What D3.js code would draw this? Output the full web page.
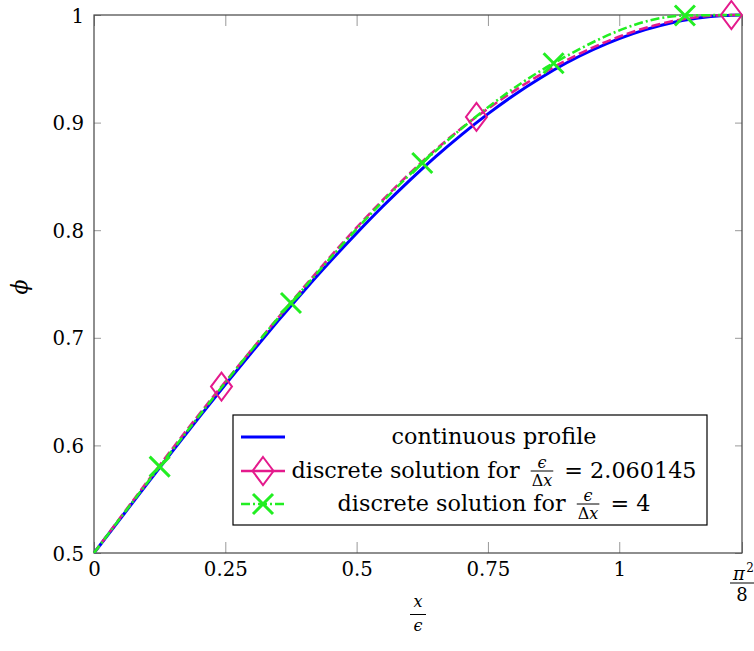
<!DOCTYPE html>
<html>
<head>
<meta charset="utf-8">
<script src="https://cdn.jsdelivr.net/npm/d3@7/dist/d3.min.js"></script>
<style>
  body { margin: 0; background: #fff; }
  svg text { font-family: "DejaVu Serif", "Liberation Serif", serif; }
</style>
</head>
<body>
<svg id="chart" width="754" height="651"></svg>
<script>
// axis ticks
const xEnd = Math.PI * Math.PI / 8;
const xTicks = [0, 0.25, 0.5, 0.75, 1, xEnd];
const xTickLabels = ['0', '0.25', '0.5', '0.75', '1', null];
const yTicks = [0.5, 0.6, 0.7, 0.8, 0.9, 1];
const yTickLabels = ['0.5', '0.6', '0.7', '0.8', '0.9', '1'];

// continuous profile
const contX = [0, 0.05, 0.1, 0.15, 0.2, 0.25, 0.3, 0.35, 0.4, 0.45, 0.5, 0.55, 0.6,
  0.65, 0.7, 0.75, 0.8, 0.85, 0.9, 0.95, 1.0, 1.05, 1.1, 1.15, 1.2, xEnd];
const contY = [0.5, 0.5318, 0.5635, 0.5949, 0.6260, 0.6565, 0.6864, 0.7155, 0.7438,
  0.7711, 0.7972, 0.8222, 0.8459, 0.8682, 0.8889, 0.9081, 0.9257, 0.9415, 0.9556,
  0.9677, 0.9780, 0.9864, 0.9928, 0.9972, 0.9995, 1.0];

// discrete solution, eps/dx = 2.060145
const coarseX = [0, 0.2427, 0.7281, 1.2135, xEnd];
const coarseY = [0.5, 0.6547, 0.9053, 1.0, 1.0];

// discrete solution, eps/dx = 4
const fineX = [0, 0.125, 0.375, 0.625, 0.875, 1.125, xEnd];
const fineY = [0.5, 0.5803, 0.7323, 0.8625, 0.9552, 0.9995, 1.0];

const blue = '#0000ff';
const pink = '#e41a8c';
const green = '#22ee22';

const svg = d3.select('#chart');
const x = d3.scaleLinear().domain([0, xEnd]).range([94, 742]);
const y = d3.scaleLinear().domain([0.5, 1]).range([553, 15]);

// pick a font size so a string gets the width it has in the reference
function fit(str, width) {
  const t = svg.append('text').attr('font-size', 100).text(str);
  const w = t.node().getComputedTextLength();
  t.remove();
  return 100 * width / w;
}
const tickFont = fit('0.25', 44);
const legendFont = fit('continuous profile', 205);

// ticks (inside, mirrored)
function tickAxis(axis, tr) {
  const g = svg.append('g').attr('transform', tr).call(axis);
  g.select('.domain').remove();
  g.selectAll('.tick line').attr('stroke', '#999').attr('stroke-width', 1);
  g.selectAll('.tick text').attr('font-size', tickFont).attr('fill', '#000');
  return g;
}
tickAxis(d3.axisBottom(x).tickValues(xTicks).tickSize(-11).tickPadding(4)
  .tickFormat((d, i) => xTickLabels[i] || ''), 'translate(0,553)')
  .selectAll('.tick text').attr('dy', '0.95em');
tickAxis(d3.axisTop(x).tickValues(xTicks).tickSize(-11).tickFormat(''), 'translate(0,15)');
tickAxis(d3.axisLeft(y).tickValues(yTicks).tickSize(-7).tickPadding(10)
  .tickFormat((d, i) => yTickLabels[i]), 'translate(94,0)')
  .selectAll('.tick text').attr('dy', '0.36em');
tickAxis(d3.axisRight(y).tickValues(yTicks).tickSize(-7).tickFormat(''), 'translate(742,0)');

// frame
svg.append('rect').attr('x', 94).attr('y', 15).attr('width', 648).attr('height', 538)
  .attr('fill', 'none').attr('stroke', '#444').attr('stroke-width', 1.2);

// pi^2/8 tick label
const pl = svg.append('g').attr('transform', `translate(${x(xEnd)},0)`);
pl.append('text').attr('x', -3).attr('y', 580).attr('text-anchor', 'middle')
  .attr('font-size', 18).attr('font-style', 'italic').text('π');
pl.append('text').attr('x', 8).attr('y', 572).attr('text-anchor', 'middle')
  .attr('font-size', 12).text('2');
pl.append('line').attr('x1', -12).attr('x2', 12).attr('y1', 583).attr('y2', 583)
  .attr('stroke', '#000').attr('stroke-width', 1);
pl.append('text').attr('x', 0).attr('y', 601).attr('text-anchor', 'middle')
  .attr('font-size', 18).text('8');

// curves
const line = d3.line().x(d => x(d[0])).y(d => y(d[1])).curve(d3.curveMonotoneX);
const contData = d3.zip(contX, contY);
const coarseData = d3.zip(coarseX, coarseY);
const fineData = d3.zip(fineX, fineY);

svg.append('path').datum(contData).attr('d', line)
  .attr('fill', 'none').attr('stroke', blue).attr('stroke-width', 3);
svg.append('path').datum(coarseData).attr('d', line)
  .attr('fill', 'none').attr('stroke', pink).attr('stroke-width', 2.6)
  .attr('stroke-dasharray', '9,4');
svg.append('path').datum(fineData).attr('d', line)
  .attr('fill', 'none').attr('stroke', green).attr('stroke-width', 2.6)
  .attr('stroke-dasharray', '9,3,2,3');

// markers
const diamond = 'M0,-14L10.5,0L0,14L-10.5,0Z';
function drawDiamond(g, cx, cy) {
  g.append('path').attr('d', diamond).attr('transform', `translate(${cx},${cy})`)
    .attr('fill', 'none').attr('stroke', pink).attr('stroke-width', 2);
}
function drawCross(g, cx, cy) {
  g.append('path').attr('d', 'M-10,-10L10,10M-10,10L10,-10')
    .attr('transform', `translate(${cx},${cy})`)
    .attr('fill', 'none').attr('stroke', green).attr('stroke-width', 3);
}
const marks = svg.append('g');
coarseData.slice(1, -1).forEach(d => drawDiamond(marks, x(d[0]), y(d[1])));
fineData.slice(1, -1).forEach(d => drawCross(marks, x(d[0]), y(d[1])));

// axis labels
const xl = svg.append('g').attr('transform', 'translate(418,0)');
xl.append('text').attr('y', 607).attr('text-anchor', 'middle').attr('font-size', 16)
  .attr('font-style', 'italic').text('x');
xl.append('line').attr('x1', -8).attr('x2', 8).attr('y1', 614.5).attr('y2', 614.5)
  .attr('stroke', '#000').attr('stroke-width', 1);
xl.append('text').attr('y', 631).attr('text-anchor', 'middle').attr('font-size', 16)
  .attr('font-style', 'italic').text('ϵ');

svg.append('text').attr('transform', 'translate(27,287) rotate(-90)')
  .attr('text-anchor', 'middle').attr('font-size', 22).attr('font-style', 'italic').text('ϕ');

// legend
const lg = svg.append('g');
lg.append('rect').attr('x', 233).attr('y', 415).attr('width', 474).attr('height', 110)
  .attr('fill', '#fff').attr('stroke', '#000').attr('stroke-width', 1.2);

function richLine(cy, parts) {
  const g = lg.append('g');
  let cur = 0;
  parts.forEach(p => {
    if (p.frac) {
      const fs = 16;
      const fg = g.append('g');
      const num = fg.append('text').attr('font-size', fs).attr('font-style', 'italic')
        .attr('text-anchor', 'middle').attr('y', cy - 3).text('ϵ');
      const den = fg.append('text').attr('font-size', fs).attr('text-anchor', 'middle')
        .attr('y', cy + 15);
      den.append('tspan').text('Δ');
      den.append('tspan').attr('font-style', 'italic').text('x');
      const w = Math.max(num.node().getComputedTextLength(), den.node().getComputedTextLength()) + 2;
      num.attr('x', cur + w / 2 + 4);
      den.attr('x', cur + w / 2 + 4);
      fg.append('line').attr('x1', cur + 4).attr('x2', cur + w + 4)
        .attr('y1', cy).attr('y2', cy).attr('stroke', '#000').attr('stroke-width', 1);
      cur += w + 8;
    } else {
      const t = g.append('text').attr('font-size', legendFont).attr('x', cur).attr('y', cy + 7)
        .attr('xml:space', 'preserve').style('white-space', 'pre').text(p.t);
      cur += t.node().getComputedTextLength();
    }
  });
  g.attr('transform', `translate(${494 - cur / 2},0)`);
}

const rows = [437, 471, 504];
lg.append('line').attr('x1', 241).attr('x2', 285).attr('y1', rows[0]).attr('y2', rows[0])
  .attr('stroke', blue).attr('stroke-width', 3);
lg.append('line').attr('x1', 241).attr('x2', 285).attr('y1', rows[1]).attr('y2', rows[1])
  .attr('stroke', pink).attr('stroke-width', 2.6);
drawDiamond(lg, 263, rows[1]);
lg.append('line').attr('x1', 241).attr('x2', 285).attr('y1', rows[2]).attr('y2', rows[2])
  .attr('stroke', green).attr('stroke-width', 2.6).attr('stroke-dasharray', '9,3,2,3');
drawCross(lg, 263, rows[2]);

richLine(rows[0], [{ t: 'continuous profile' }]);
richLine(rows[1], [{ t: 'discrete solution for ' }, { frac: true }, { t: ' = 2.060145' }]);
richLine(rows[2], [{ t: 'discrete solution for ' }, { frac: true }, { t: ' = 4' }]);
</script>
</body>
</html>
